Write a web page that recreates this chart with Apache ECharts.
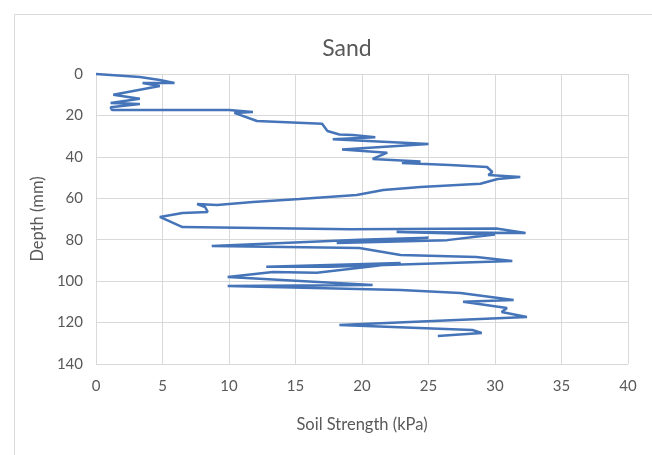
<!DOCTYPE html>
<html>
<head>
<meta charset="utf-8">
<script src="https://cdn.jsdelivr.net/npm/echarts@6/dist/echarts.min.js"></script>
<style>html,body{margin:0;padding:0;background:#fff}#c{width:652px;height:455px}</style>
</head>
<body>
<div id="c"></div>
<script>
const titleText = "Sand";
const xAxisName = "Soil Strength (kPa)";
const yAxisName = "Depth (mm)";
const xTicks = [0, 5, 10, 15, 20, 25, 30, 35, 40];
const yTicks = [0, 20, 40, 60, 80, 100, 120, 140];
const strength = [0, 3.3, 4.8, 5.9, 3.5, 4.8, 1.3, 3.3, 1.1, 3.3, 1.1, 1.2, 10, 11.8, 10.4, 12.1, 17, 17.4, 18.3, 19.3, 21, 17.8, 25, 18.5, 21.9, 20.8, 24.4, 23, 26.6, 29.4, 29.8, 29.5, 31.9, 30.2, 28.9, 24.4, 21.6, 19.6, 15.3, 11.8, 9.1, 7.6, 8.2, 8.4, 6.5, 4.8, 6.5, 19.1, 30.1, 32.3, 22.6, 30, 26.4, 18.1, 25, 19.8, 8.7, 19.8, 22.9, 28.6, 31.3, 17.6, 12.8, 22.9, 16.6, 13.3, 9.9, 20.8, 9.9, 22.9, 27.4, 31.4, 27.6, 30.9, 30.5, 32.4, 18.3, 28.3, 29, 25.7];
const depth = [0, 1.4, 2.9, 4.3, 4.3, 5.8, 10, 12, 14, 14.5, 16, 17.4, 17.4, 18.3, 18.8, 22.7, 24, 27.5, 29.2, 29.5, 30.5, 31.5, 33.8, 36.5, 38, 41, 42.3, 43, 43.9, 44.9, 47.3, 48.8, 49.7, 50.7, 53, 54.6, 56, 58.4, 60.4, 61.8, 63.2, 62.8, 64.2, 66.6, 67.1, 69, 73.9, 75, 74.6, 76.8, 76.3, 77.5, 80.2, 81.6, 79, 80, 83, 84, 87.4, 88.3, 90.3, 93, 93, 91.3, 96, 95.6, 98, 101.9, 102.4, 104.3, 105.7, 109.1, 110, 113, 114.9, 117.3, 121.2, 123.6, 125, 126.5];

const font = "'Lato',sans-serif";
const chart = echarts.init(document.getElementById('c'), null, {renderer: 'canvas'});
chart.setOption({
  animation: false,
  backgroundColor: '#fff',
  graphic: [{
    type: 'rect', left: 12, top: 12, shape: {width: 720, height: 520},
    style: {fill: 'none', stroke: '#d9d9d9', lineWidth: 1}, silent: true
  }],
  title: {
    text: titleText, left: 342, top: 32, textAlign: 'center',
    textStyle: {fontFamily: font, fontSize: 23, fontWeight: 'normal', color: '#595959'}
  },
  grid: {left: 96, top: 74, right: 24, bottom: 91},
  xAxis: {
    type: 'value', min: xTicks[0], max: xTicks[xTicks.length - 1], interval: 5,
    name: xAxisName, nameLocation: 'middle', nameGap: 52,
    nameTextStyle: {fontFamily: font, fontSize: 16.5, color: '#595959'},
    axisLine: {show: false, onZero: false}, axisTick: {show: false},
    axisLabel: {fontFamily: font, fontSize: 15, color: '#595959', margin: 15},
    splitLine: {show: true, lineStyle: {color: '#d9d9d9', width: 1}}
  },
  yAxis: {
    type: 'value', inverse: true, min: yTicks[0], max: yTicks[yTicks.length - 1], interval: 20,
    name: yAxisName, nameLocation: 'middle', nameGap: 48, nameRotate: 90,
    nameTextStyle: {fontFamily: font, fontSize: 16.5, color: '#595959'},
    axisLine: {show: false, onZero: false}, axisTick: {show: false},
    axisLabel: {fontFamily: font, fontSize: 15, color: '#595959', margin: 13},
    splitLine: {show: true, lineStyle: {color: '#d9d9d9', width: 1}}
  },
  series: [{
    type: 'line',
    data: strength.map((s, i) => [s, depth[i]]),
    showSymbol: false, symbol: 'none',
    lineStyle: {color: '#4674B8', width: 2.5},
    clip: false
  }]
});
</script>
</body>
</html>
